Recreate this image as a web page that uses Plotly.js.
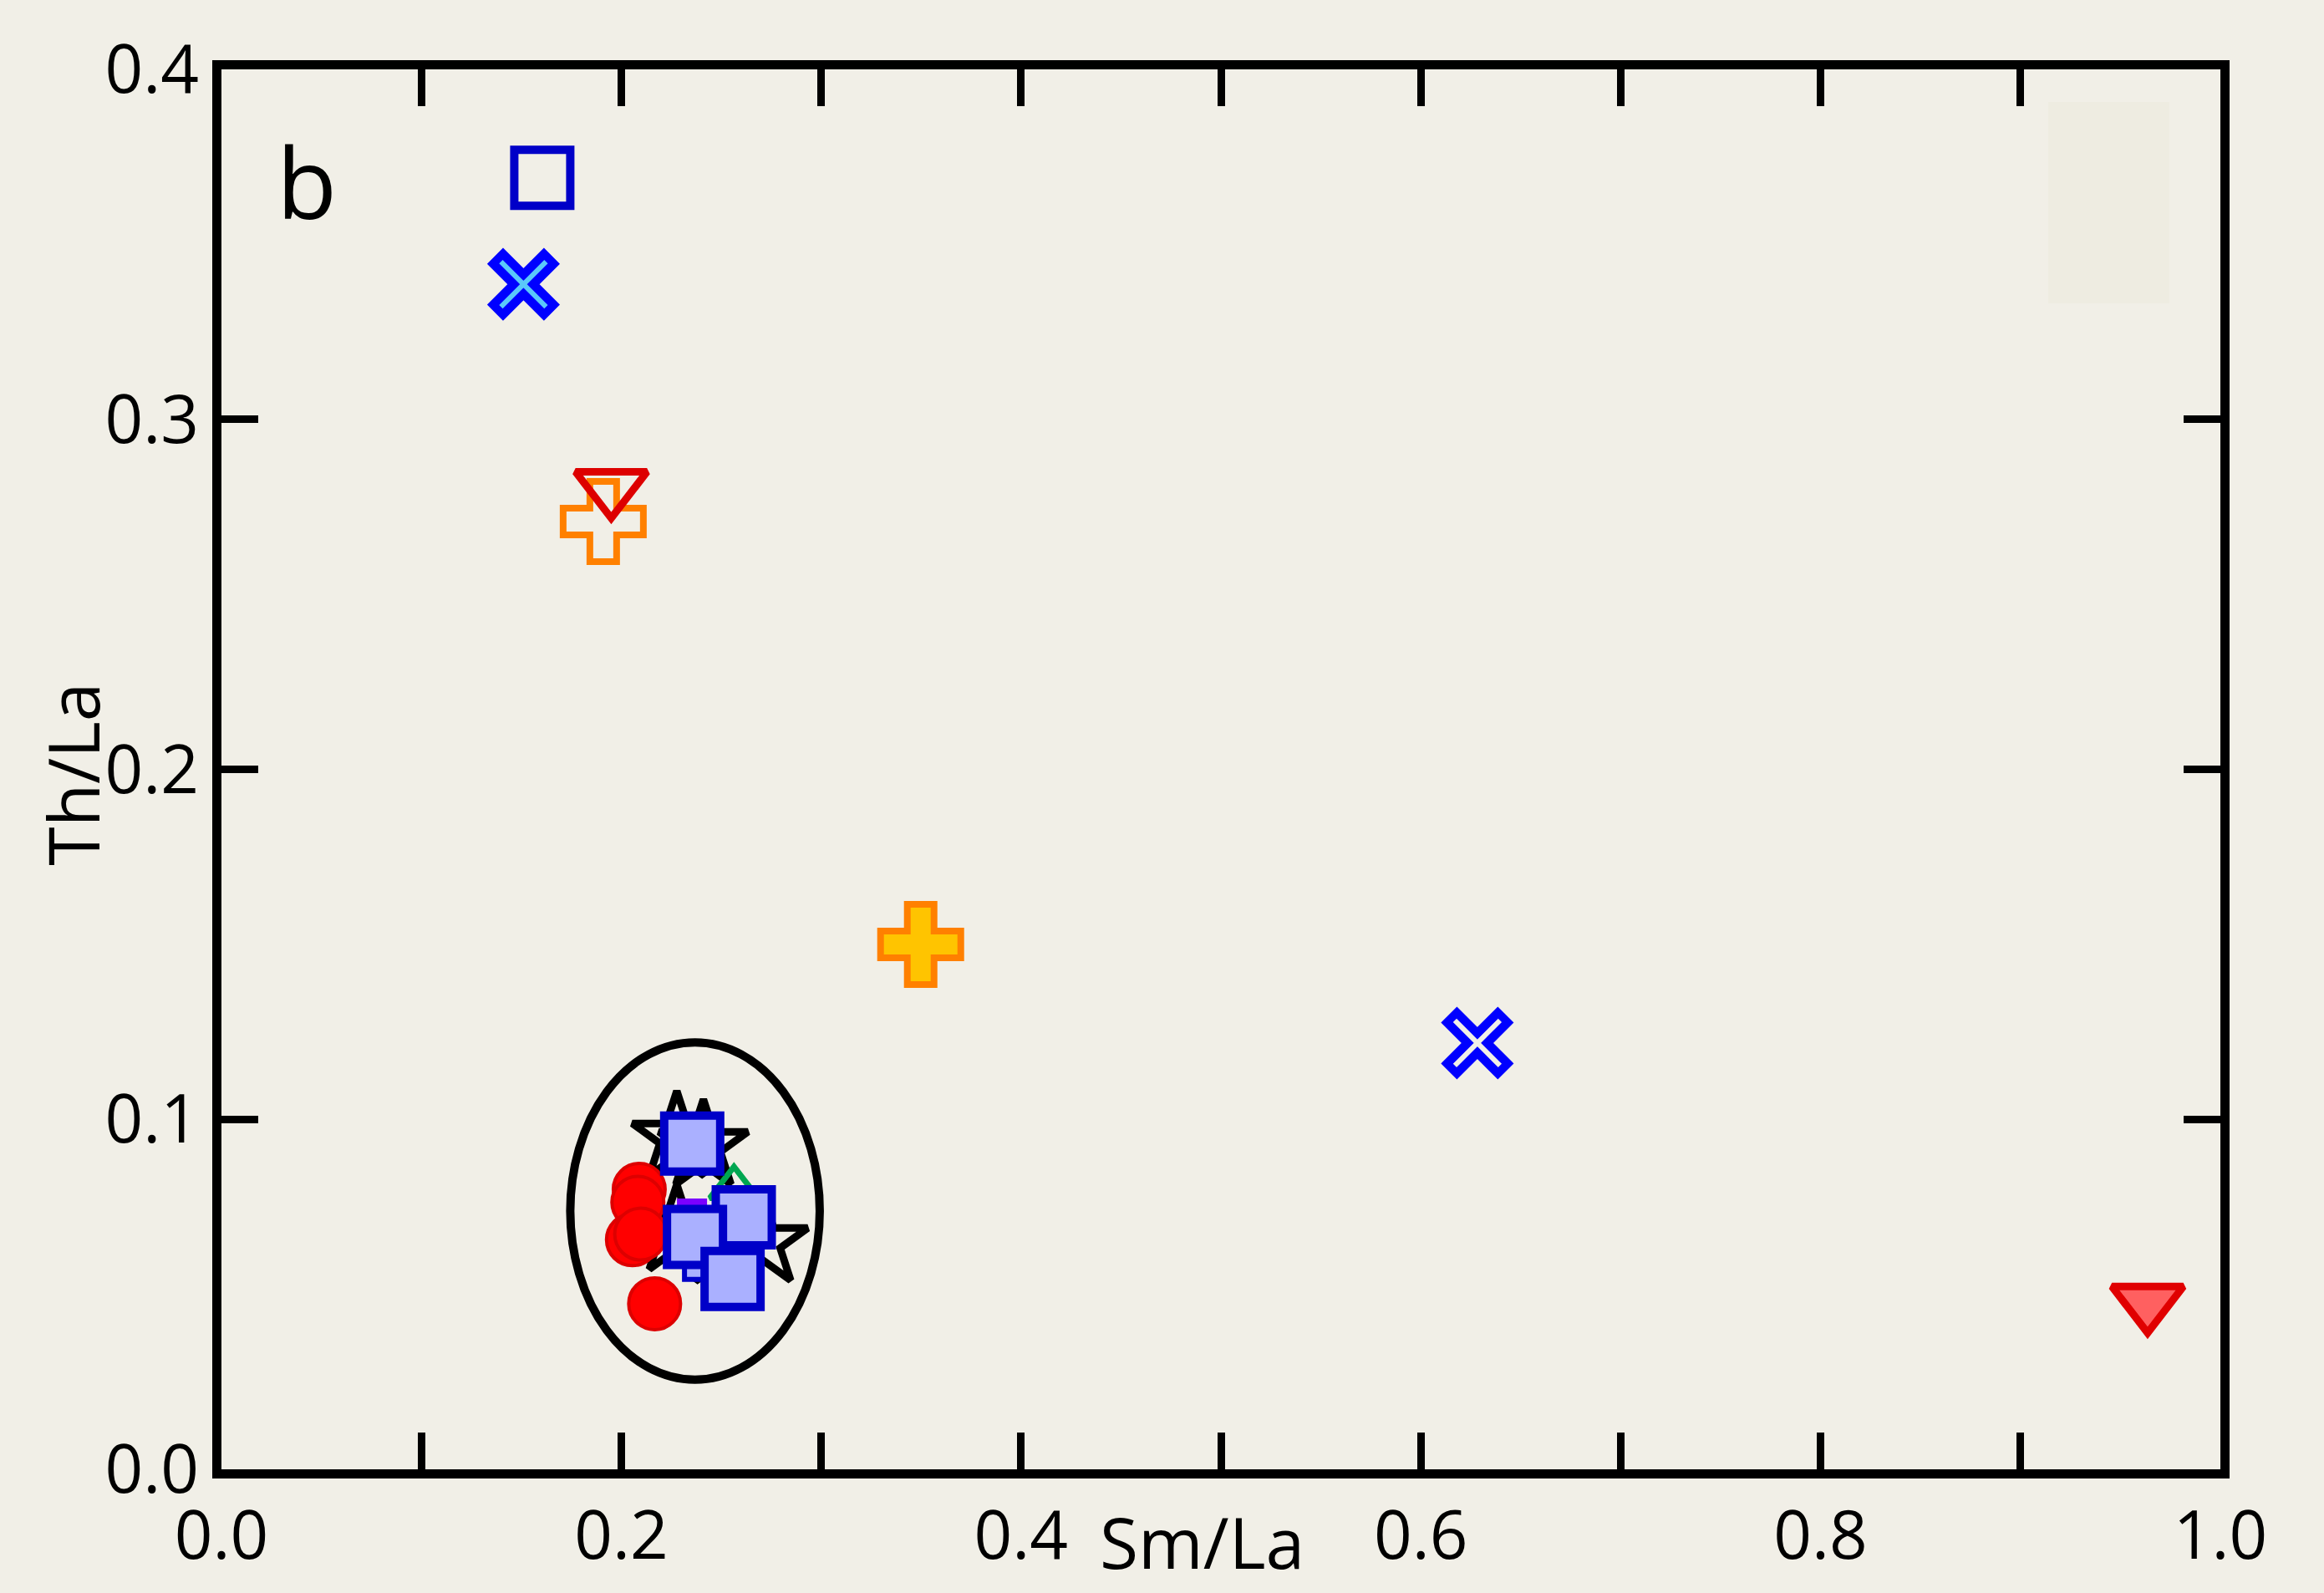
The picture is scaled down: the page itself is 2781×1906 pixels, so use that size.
<!DOCTYPE html>
<html>
<head>
<meta charset="utf-8">
<script src="https://cdn.plot.ly/plotly-3.0.1.min.js"></script>
<style>
  html, body { margin: 0; padding: 0; background: #f1efe7; }
  #chart { width: 2781px; height: 1906px; }
</style>
</head>
<body>
<div id="chart"></div>
<script>
// ---- data (Sm/La, Th/La) ----
const starsX     = [0.2278, 0.2411, 0.2710, 0.2278, 0.2508];
const starsY     = [0.0947, 0.0923, 0.0648, 0.0680, 0.0645];
const purpleX    = [0.2354];
const purpleY    = [0.0731];
const greenTriX  = [0.2564];
const greenTriY  = [0.0805];
const smallSqX   = [0.2375];
const smallSqY   = [0.0576];
const circlesX   = [0.2090, 0.2083, 0.2056, 0.2097, 0.2167];
const circlesY   = [0.0800, 0.0763, 0.0656, 0.0672, 0.0473];
const squaresX   = [0.2355, 0.2613, 0.2369, 0.2557];
const squaresY   = [0.0931, 0.0720, 0.0664, 0.0544];
const openSqX    = [0.1605];
const openSqY    = [0.369];
const crossXfX   = [0.1511];
const crossXfY   = [0.3386];
const openTriX   = [0.195];
const openTriY   = [0.2806];
const openCrossX = [0.191];
const openCrossY = [0.2708];
const fillCrossX = [0.3498];
const fillCrossY = [0.150];
const openXX     = [0.6283];
const openXY     = [0.1218];
const fillTriX   = [0.9636];
const fillTriY   = [0.0478];
// field ellipse bounds
const ellipseX   = [0.1745, 0.2993];
const ellipseY   = [0.0256, 0.1220];
// ticks and titles
const xTickVals  = [0, 0.1, 0.2, 0.3, 0.4, 0.5, 0.6, 0.7, 0.8, 0.9, 1.0];
const xTickText  = ["0.0", "", "0.2", "", "0.4", "", "0.6", "", "0.8", "", "1.0"];
const yTickVals  = [0, 0.1, 0.2, 0.3, 0.4];
const yTickText  = ["0.0", "0.1", "0.2", "0.3", "0.4"];
const xTitle     = 'Sm/La';
const yTitle     = 'Th/La';
const panelLabel = 'b';

const BG = '#f1efe7';
const FONT = 'Open Sans, Liberation Sans, DejaVu Sans, sans-serif';

function sc(x, y, marker) {
  return { type: 'scatter', mode: 'markers', x: x, y: y, marker: marker,
           hoverinfo: 'x+y', showlegend: false, cliponaxis: false };
}

const traces = [
  sc(starsX, starsY, { symbol: 'star-open', size: 80, color: '#000000', line: { color: '#000000', width: 9 } }),
  sc(purpleX, purpleY, { symbol: 'square', size: 34, color: '#7a00ff', line: { color: '#7a00ff', width: 2 } }),
  sc(greenTriX, greenTriY, { symbol: 'triangle-up-open', size: 50, color: '#00a651', line: { color: '#00a651', width: 7 } }),
  sc(smallSqX, smallSqY, { symbol: 'square', size: 28, color: '#aab0ff', line: { color: '#0000c8', width: 6 } }),
  sc(circlesX, circlesY, { symbol: 'circle', size: 62, color: '#ff0000', line: { color: '#dd0000', width: 4 } }),
  sc(squaresX, squaresY, { symbol: 'square', size: 67, color: '#aab0ff', line: { color: '#0000c8', width: 10 } }),
  sc(openSqX, openSqY, { symbol: 'square-open', size: 67, color: '#0000c8', line: { color: '#0000c8', width: 10 } }),
  // X with light blue core: thick blue stroke + thin light stroke on top
  sc(crossXfX, crossXfY, { symbol: 'x-thin-open', size: 68, color: '#0000ff', line: { color: '#0000ff', width: 27 } }),
  sc(crossXfX, crossXfY, { symbol: 'x-thin-open', size: 54, color: '#5ac8fa', line: { color: '#5ac8fa', width: 6 } }),
  sc(openCrossX, openCrossY, { symbol: 'cross-open', size: 80, color: '#ff8000', line: { color: '#ff8000', width: 8 } }),
  sc(openTriX, openTriY, { symbol: 'triangle-down-open', size: 74, color: '#dd0000', line: { color: '#dd0000', width: 9 } }),
  sc(fillCrossX, fillCrossY, { symbol: 'cross', size: 80, color: '#ffc400', line: { color: '#ff8000', width: 8 } }),
  sc(openXX, openXY, { symbol: 'x-thin-open', size: 68, color: '#0000ff', line: { color: '#0000ff', width: 27 } }),
  sc(openXX, openXY, { symbol: 'x-thin-open', size: 54, color: BG, line: { color: BG, width: 6 } }),
  sc(fillTriX, fillTriY, { symbol: 'triangle-down', size: 74, color: '#ff6060', line: { color: '#e00000', width: 9 } })
];

const axisCommon = {
  showline: true, linecolor: '#000000', linewidth: 11, mirror: 'ticks',
  ticks: 'inside', ticklen: 44, tickwidth: 9, tickcolor: '#000000',
  showgrid: false, zeroline: false, tickmode: 'array',
  tickfont: { family: FONT, size: 80, color: '#000000' }
};

const layout = {
  width: 2781, height: 1906,
  paper_bgcolor: BG, plot_bgcolor: BG,
  margin: { l: 265, r: 124, t: 83, b: 148, pad: 0 },
  showlegend: false,
  xaxis: Object.assign({}, axisCommon, { range: [0, 1], tickvals: xTickVals, ticktext: xTickText }),
  yaxis: Object.assign({}, axisCommon, { range: [0, 0.4], tickvals: yTickVals, ticktext: yTickText }),
  shapes: [
    { type: 'rect', xref: 'paper', yref: 'paper', x0: 0.9139, x1: 0.9745, y0: 0.8328, y1: 0.9767,
      fillcolor: '#eeece1', line: { width: 0 }, layer: 'below' },
    { type: 'circle', xref: 'x', yref: 'y', x0: ellipseX[0], x1: ellipseX[1], y0: ellipseY[0], y1: ellipseY[1],
      line: { color: '#000000', width: 10 }, fillcolor: 'rgba(0,0,0,0)', layer: 'below' }
  ],
  annotations: [
    { text: panelLabel, xref: 'paper', yref: 'paper', x: 0.0426, y: 0.92, xanchor: 'center', yanchor: 'middle',
      showarrow: false, font: { family: FONT, size: 118, color: '#000000' } },
    { text: xTitle, xref: 'paper', yref: 'paper', x: 0.4904, y: -0.0872, xanchor: 'center', yanchor: 'bottom',
      showarrow: false, font: { family: FONT, size: 84, color: '#000000' } },
    { text: yTitle, xref: 'paper', yref: 'paper', x: -0.075, y: 0.4967, xanchor: 'center', yanchor: 'middle',
      textangle: -90, showarrow: false, font: { family: FONT, size: 84, color: '#000000' } }
  ]
};

Plotly.newPlot('chart', traces, layout, { displayModeBar: false, staticPlot: true });
</script>
</body>
</html>
